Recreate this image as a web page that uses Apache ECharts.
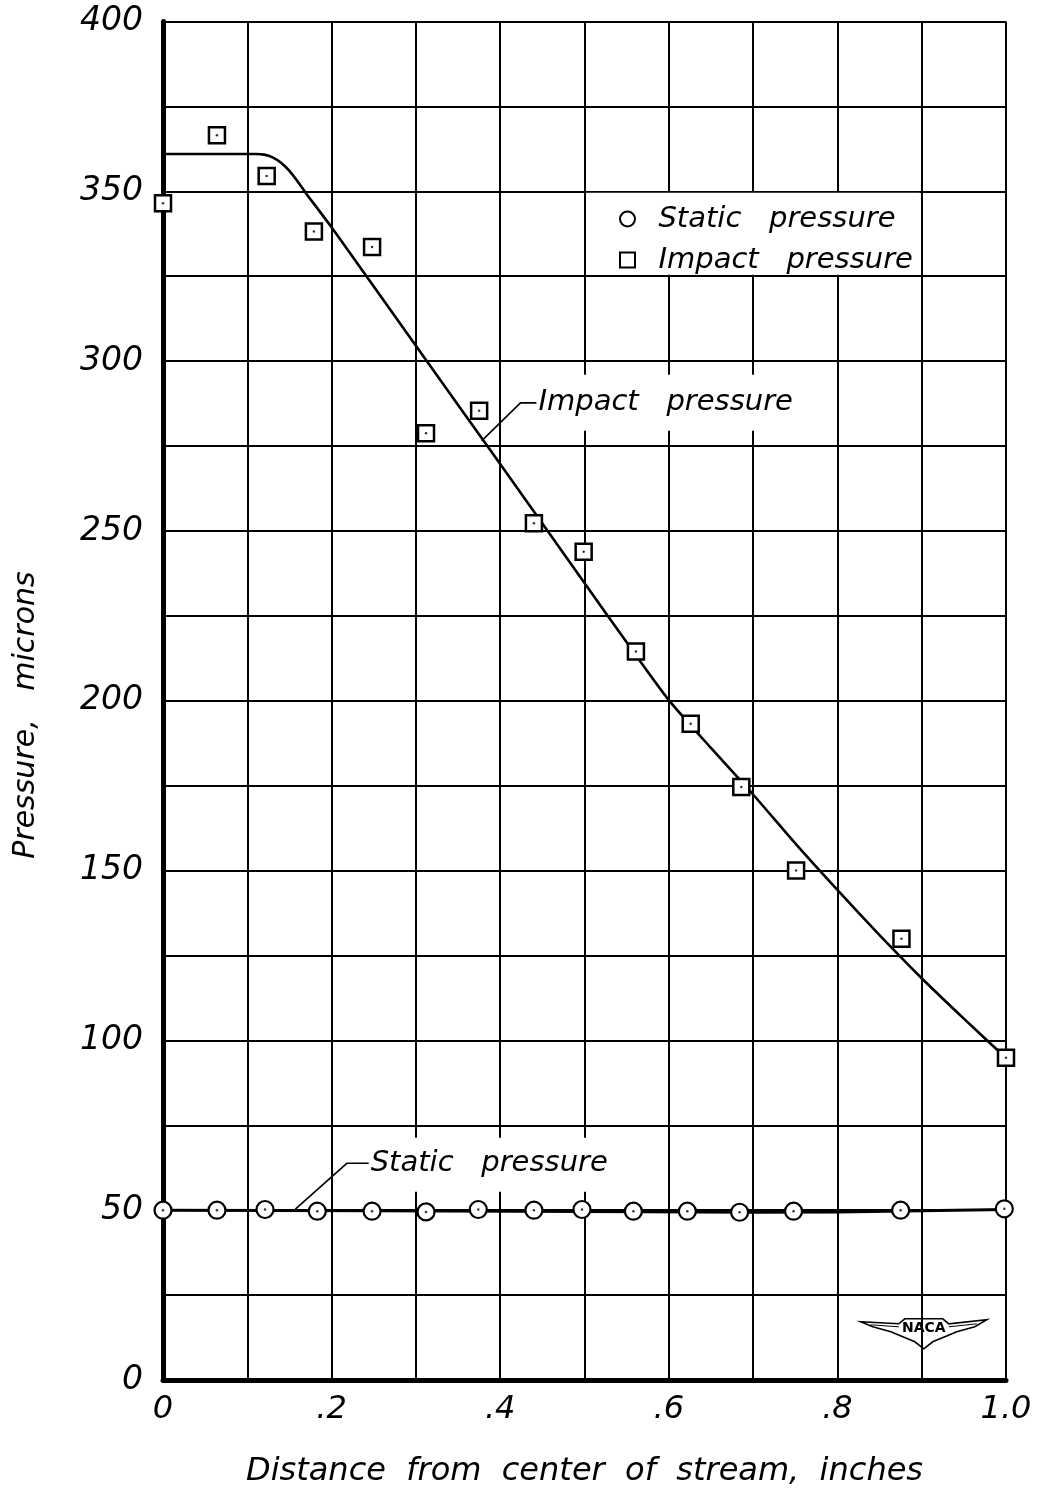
<!DOCTYPE html>
<html><head><meta charset="utf-8">
<script src="https://cdn.jsdelivr.net/npm/echarts/dist/echarts.min.js"></script>
<style>html,body{margin:0;padding:0;background:#fff}#c{width:1037px;height:1489px}</style>
</head><body><div id="c"></div>
<script>
// ---- data ----
const impactX = [0, 0.064, 0.123, 0.179, 0.248, 0.312, 0.375, 0.440, 0.499, 0.561, 0.626, 0.686, 0.751, 0.876, 1.0];
const impactY = [346.5, 366.5, 354.5, 338.2, 333.6, 278.8, 285.4, 252.3, 243.9, 214.5, 193.2, 174.6, 150.0, 129.9, 94.9];

const staticX = [0, 0.064, 0.121, 0.183, 0.248, 0.312, 0.374, 0.440, 0.497, 0.558, 0.622, 0.684, 0.748, 0.875, 0.998];
const staticY = [50, 50, 50.2, 49.7, 49.7, 49.5, 50.2, 50, 50.2, 49.7, 49.7, 49.4, 49.7, 50, 50.4];

// faired curves
const impactCurveX = [0, 0.11, 0.12, 0.13, 0.14, 0.15, 0.16, 0.17, 0.18, 0.2, 0.3, 0.4, 0.5, 0.55, 0.6, 0.65, 0.7, 0.75, 0.8, 0.85, 0.9, 0.95, 1.0];
const impactCurveY = [361, 361, 360.8, 360.0, 358.4, 356.0, 352.8, 349.3, 346.0, 339.4, 304.5, 269.7, 234.7, 217.2, 200.2, 186.1, 172.4, 158.0, 144.3, 131.0, 118.3, 106.4, 94.8];
const staticCurveX = [0, 0.25, 0.5, 0.7, 0.8, 1.0];
const staticCurveY = [50, 49.8, 49.6, 49.4, 49.5, 50.2];

// annotation leaders
const impactLeaderX = [0.443, 0.424, 0.378];
const impactLeaderY = [287.7, 287.7, 276.5];
const staticLeaderX = [0.244, 0.218, 0.157];
const staticLeaderY = [63.8, 63.8, 50.3];

const xTickLabels = {0: '0', 2: '.2', 4: '.4', 6: '.6', 8: '.8', 10: '1.0'};
const yTickLabels = [0, 50, 100, 150, 200, 250, 300, 350, 400];

const FONT = "'DejaVu Sans', sans-serif";
const zip = (a, b) => a.map((v, i) => [v, b[i]]);

const chart = echarts.init(document.getElementById('c'), null, {renderer: 'canvas'});
const option = {
  animation: false,
  backgroundColor: '#fff',
  grid: {left: 163, right: 31, top: 21.5, bottom: 109, containLabel: false, outerBoundsMode: 'none'},
  xAxis: {
    type: 'value', min: 0, max: 1, interval: 0.1,
    name: 'Distance  from  center  of  stream,  inches',
    nameLocation: 'middle', nameGap: 76,
    nameTextStyle: {fontFamily: FONT, fontStyle: 'italic', fontSize: 32, color: '#000'},
    axisLine: {show: true, lineStyle: {color: '#000', width: 5}},
    axisTick: {show: false},
    splitLine: {show: true, lineStyle: {color: '#000', width: 2}},
    axisLabel: {
      margin: 14, fontFamily: FONT, fontStyle: 'italic', fontSize: 32, color: '#000',
      formatter: v => { const k = Math.round(v * 10); return xTickLabels[k] !== undefined ? xTickLabels[k] : ''; }
    }
  },
  yAxis: {
    type: 'value', min: 0, max: 400, interval: 25,
    name: 'Pressure,   microns   ',
    nameLocation: 'middle', nameGap: 122,
    nameTextStyle: {fontFamily: FONT, fontStyle: 'italic', fontSize: 30, color: '#000'},
    axisLine: {show: true, lineStyle: {color: '#000', width: 5}},
    axisTick: {show: false},
    splitLine: {show: true, lineStyle: {color: '#000', width: 2}},
    axisLabel: {
      margin: 20, fontFamily: FONT, fontStyle: 'italic', fontSize: 33, color: '#000',
      formatter: v => yTickLabels.indexOf(Math.round(v)) >= 0 ? String(Math.round(v)) : ''
    }
  },
  legend: {
    data: ['Static pressure', 'Impact pressure'],
    orient: 'vertical', left: 614, top: 196,
    itemWidth: 15, itemHeight: 15, itemGap: 5,
    formatter: n => '  ' + n.replace(' ', '   '),
    textStyle: {fontFamily: FONT, fontStyle: 'italic', fontSize: 29, color: '#000', lineHeight: 36}
  },
  series: [
    { // white masks behind legend and annotations
      name: 'mask', type: 'scatter', data: [[0, 0]], symbolSize: 0, z: 1, silent: true,
      markArea: {
        silent: true,
        itemStyle: {color: '#fff', opacity: 1},
        data: [
          [{coord: [0.5025, 349.6]}, {coord: [0.8975, 325.4]}],
          [{coord: [0.445, 296]}, {coord: [0.78, 279.5]}],
          [{coord: [0.245, 71.3]}, {coord: [0.56, 55.4]}]
        ]
      }
    },
    {
      name: 'impactCurve', type: 'line', data: zip(impactCurveX, impactCurveY), z: 3,
      symbol: 'none', smooth: 0.2,
      lineStyle: {color: '#000', width: 2.6, join: 'round'}
    },
    {
      name: 'staticCurve', type: 'line', data: zip(staticCurveX, staticCurveY), z: 3,
      symbol: 'none', lineStyle: {color: '#000', width: 3}
    },
    {
      name: 'impactLeader', type: 'line', data: zip(impactLeaderX, impactLeaderY), z: 3,
      symbol: 'none', lineStyle: {color: '#000', width: 1.6}
    },
    {
      name: 'staticLeader', type: 'line', data: zip(staticLeaderX, staticLeaderY), z: 3,
      symbol: 'none', lineStyle: {color: '#000', width: 1.6}
    },
    {
      name: 'Static pressure', type: 'scatter', data: zip(staticX, staticY), z: 5,
      symbol: 'circle', symbolSize: 17,
      itemStyle: {color: '#fff', borderColor: '#000', borderWidth: 2.2, opacity: 1}
    },
    {
      name: 'Impact pressure', type: 'scatter', data: zip(impactX, impactY), z: 5,
      symbol: 'rect', symbolSize: 16,
      itemStyle: {color: '#fff', borderColor: '#000', borderWidth: 2.5, opacity: 1}
    },
    {
      name: 'dots', type: 'scatter', data: zip(staticX, staticY).concat(zip(impactX, impactY)), z: 6,
      symbol: 'circle', symbolSize: 2.5, itemStyle: {color: '#000'}
    },
    {
      name: 'labels', type: 'scatter', z: 6, symbolSize: 0, silent: true,
      itemStyle: {color: '#000'},
      data: [
        {value: [impactLeaderX[0], impactLeaderY[0]], label: {formatter: 'Impact   pressure'}},
        {value: [staticLeaderX[0], staticLeaderY[0]], label: {formatter: 'Static   pressure'}}
      ],
      label: {show: true, position: 'right', distance: 2, fontFamily: FONT, fontStyle: 'italic', fontSize: 29, color: '#000', opacity: 1},
      labelLayout: {hideOverlap: false}
    }
  ],
  graphic: [{
    type: 'group', left: 860, top: 1318, silent: true,
    children: [
      {type: 'polygon', shape: {points: [[0, 4], [38, 6], [44, 1], [82, 1], [88, 6], [126, 2], [114, 9], [96, 14], [84, 19], [72, 24], [63, 31], [54, 24], [42, 19], [30, 14], [12, 9]]},
       style: {fill: '#fff', stroke: '#000', lineWidth: 1.6}},
      {type: 'polyline', shape: {points: [[10, 7], [38, 9]]}, style: {stroke: '#000', lineWidth: 1}},
      {type: 'polyline', shape: {points: [[88, 9], [116, 6]]}, style: {stroke: '#000', lineWidth: 1}},
      {type: 'text', x: 63, y: 11, style: {text: 'NACA', fill: '#000', font: "bold 14px 'DejaVu Sans'", align: 'center', verticalAlign: 'middle'}}
    ]
  }]
};
chart.setOption(option);
</script>
</body></html>
